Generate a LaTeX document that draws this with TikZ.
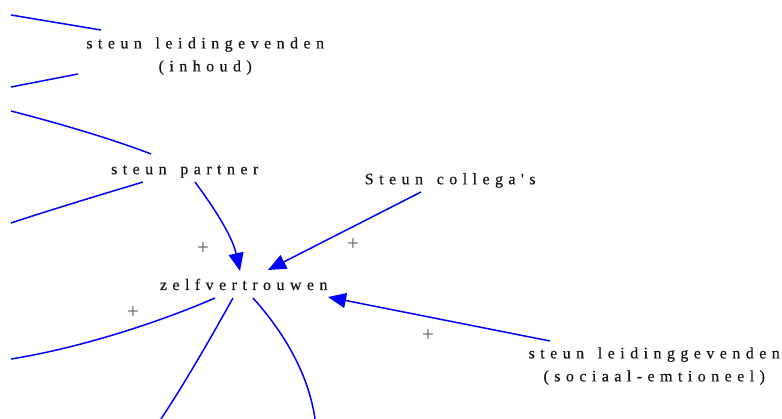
\documentclass[tikz,border=0pt]{standalone}
\usepackage{fontspec}
\setmainfont{Liberation Serif}
\newfontfamily\gvfont{Liberation Serif}[LetterSpace=34,FakeBold=0.4,WordSpace=1.45]
\usetikzlibrary{arrows.meta,calc}
\definecolor{txt}{HTML}{151515}
\definecolor{pl}{HTML}{555555}
\tikzset{
  lbl/.style={inner sep=0pt, text=txt, font=\gvfont\fontsize{16}{23}\selectfont, align=center},
  sign/.style={inner sep=0pt, text=pl, font=\fontsize{21}{24}\selectfont},
  edge/.style={draw={rgb,255:red,0;green,0;blue,255}, line width=1.5pt},
  arr/.style={edge, -{Triangle[length=18pt,width=15pt]}},
}
\begin{document}
\begin{tikzpicture}[x=1pt,y=-1pt]
\useasboundingbox (0,0) rectangle (782,419);
\node[lbl, anchor=north] (n1) at (205.2,37.1) {steun leidingevenden\\(inhoud)};
\node[lbl, anchor=base] (n2) at (184.7,174.3) {steun partner};
\node[lbl, anchor=base] (n3) at (450.2,184.3) {Steun collega's};
\node[lbl, anchor=base] (n4) at (243.7,290) {zelfvertrouwen};
\node[lbl, anchor=north] (n5) at (654.2,347.1) {steun leidinggevenden\\(sociaal-emtioneel)};

\coordinate (o1) at (11,15);
\coordinate (o2) at (11,87);
\coordinate (o3) at (11,111);
\coordinate (o4) at (11,223);
\coordinate (o5) at (11,359);
\coordinate (o6) at (161,419);
\coordinate (o7) at (315,419);

\draw[edge] (o1) -- ($(n1.north)+(-104.2,-7.1)$);
\draw[edge] (o2) -- ($(n1.north)+(-127.2,36.9)$);
\draw[edge] (o3) .. controls (50,121) and (110,138) .. ($(n2.base)+(-33.7,-20.3)$);
\draw[edge] ($(n2.base)+(-41.7,7.7)$) .. controls (100,195) and (50,210) .. (o4);
\draw[arr] ($(n2.base)+(10.3,7.7)$) .. controls (212,205) and (232,235) .. ($(n4.base)+(-3.7,-19)$);
\draw[arr] ($(n3.base)+(-29.2,7.7)$) -- ($(n4.base)+(24.3,-20)$);
\draw[arr] ($(n5.north)+(-104.2,-6.1)$) -- ($(n4.base)+(84.3,7)$);
\draw[edge] ($(n4.base)+(-28.7,8)$) .. controls (160,322) and (80,348) .. (o5);
\draw[edge] ($(n4.base)+(-10.7,8)$) .. controls (215,330) and (190,375) .. (o6);
\draw[edge] ($(n4.base)+(9.3,8)$) .. controls (280,328) and (308,370) .. (o7);

\node[sign] (p1) at (203,249) {+};
\node[sign] (p2) at (353,245) {+};
\node[sign] (p3) at (428,336) {+};
\node[sign] (p4) at (133,313) {+};
\end{tikzpicture}
\end{document}
